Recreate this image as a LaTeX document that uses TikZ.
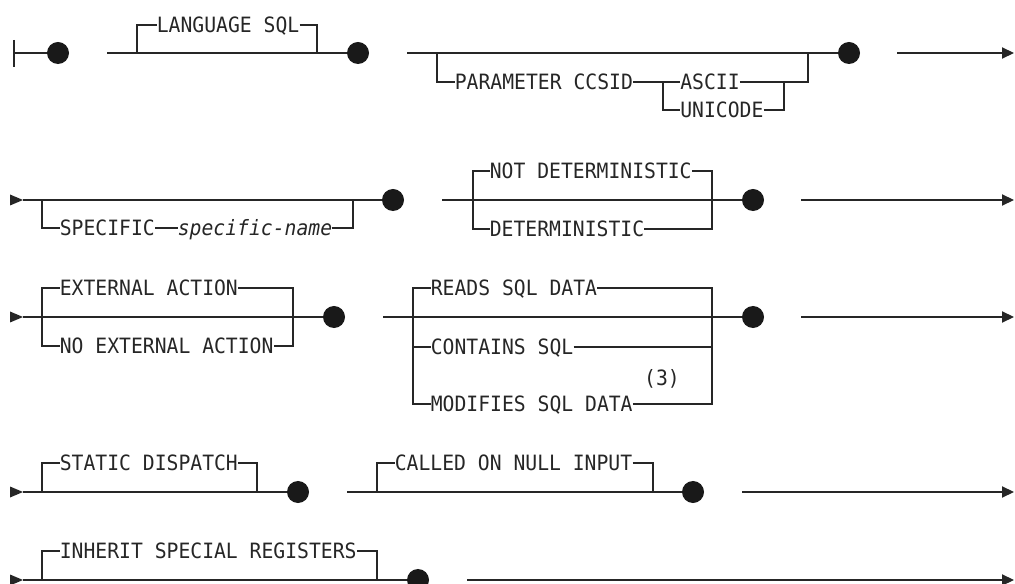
\documentclass[tikz,border=0pt]{standalone}
\usepackage{fontspec}
\newfontfamily\railfont{DejaVu Sans Mono}[FakeStretch=0.935]
\usepackage{tikz}
\usetikzlibrary{arrows.meta}

\tikzset{
  rail/.style={line width=0.85pt, draw=black!85},
  kw/.style={font=\railfont\fontsize{15}{17}\selectfont, text=black!85, inner sep=0pt,
    anchor=west, text height=10.9pt, text depth=0pt},
  dotnode/.style={circle, fill=black!90, inner sep=0pt, minimum size=0.55cm},
  outarrow/.style={rail, -{Triangle[length=0.3cm, width=0.28cm]}}
}

\begin{document}
\begin{tikzpicture}[x=0.025cm, y=-0.025cm]
  \useasboundingbox (0,0) rectangle (1015,584);
  \clip (0,0) rectangle (1015,584);

  \foreach \y in {200, 317, 492, 580} {
    \fill[black!85] (10,\y-5.5) -- (23,\y) -- (10,\y+5.5) -- cycle;
  }

  % line 1
  \coordinate (s1) at (14,53);
  \node[dotnode] (d1) at (58,53) {};
  \draw[rail] (14,40) -- (14,67);
  \draw[rail] (s1) -- (d1);

  \coordinate (a1) at (107,53);
  \coordinate (l1) at (137,53);
  \coordinate (l2) at (317,53);
  \node[dotnode] (d2) at (358,53) {};
  \node[kw] (lang) at (156.5,25) {LANGUAGE SQL};
  \draw[rail] (a1) -- (d2);
  \draw[rail] (l1) |- (lang.west);
  \draw[rail] (lang.east) -| (l2);

  \coordinate (b1) at (407,53);
  \coordinate (p1) at (437,53);
  \coordinate (p2) at (808,53);
  \coordinate (f1) at (663,82);
  \coordinate (f2) at (784,82);
  \node[dotnode] (d3) at (849,53) {};
  \node[kw] (param) at (454.5,82) {PARAMETER CCSID};
  \node[kw] (ascii) at (680,82) {ASCII};
  \node[kw] (unic) at (680,110) {UNICODE};
  \draw[rail] (b1) -- (d3);
  \draw[rail] (p1) |- (param.west);
  \draw[rail] (param.east) -- (ascii.west);
  \draw[rail] (ascii.east) -| (p2);
  \draw[rail] (f1) |- (unic.west);
  \draw[rail] (unic.east) -| (f2);

  \coordinate (c1) at (897,53);
  \coordinate (e1) at (1014,53);
  \draw[outarrow] (c1) -- (e1);

  % line 2
  \coordinate (s2) at (23,200);
  \coordinate (g1) at (42,200);
  \coordinate (g2) at (353,200);
  \node[dotnode] (d4) at (393,200) {};
  \node[kw] (spec) at (59.5,228) {SPECIFIC};
  \node[kw] (sname) at (177.5,228) {\itshape specific-name};
  \draw[rail] (s2) -- (d4);
  \draw[rail] (g1) |- (spec.west);
  \draw[rail] (spec.east) -- (sname.west);
  \draw[rail] (sname.east) -| (g2);

  \coordinate (s3) at (442,200);
  \coordinate (h1) at (473,200);
  \coordinate (h2) at (712,200);
  \node[dotnode] (d5) at (753,200) {};
  \node[kw] (notdet) at (489.5,171) {NOT DETERMINISTIC};
  \node[kw] (det) at (489.5,229) {DETERMINISTIC};
  \draw[rail] (s3) -- (d5);
  \draw[rail] (h1) |- (notdet.west);
  \draw[rail] (notdet.east) -| (h2);
  \draw[rail] (h1) |- (det.west);
  \draw[rail] (det.east) -| (h2);

  \coordinate (c2) at (801,200);
  \coordinate (e2) at (1014,200);
  \draw[outarrow] (c2) -- (e2);

  % line 3
  \coordinate (s4) at (23,317);
  \coordinate (k1) at (42,317);
  \coordinate (k2) at (293,317);
  \node[dotnode] (d6) at (334,317) {};
  \node[kw] (extact) at (59.5,288) {EXTERNAL ACTION};
  \node[kw] (noext) at (59.5,346) {NO EXTERNAL ACTION};
  \draw[rail] (s4) -- (d6);
  \draw[rail] (k1) |- (extact.west);
  \draw[rail] (extact.east) -| (k2);
  \draw[rail] (k1) |- (noext.west);
  \draw[rail] (noext.east) -| (k2);

  \coordinate (s5) at (383,317);
  \coordinate (m1) at (413,317);
  \coordinate (m2) at (712,317);
  \node[dotnode] (d7) at (753,317) {};
  \node[kw] (reads) at (430.5,288) {READS SQL DATA};
  \node[kw] (contains) at (430.5,347) {CONTAINS SQL};
  \node[kw] (modifies) at (430.5,404) {MODIFIES SQL DATA};
  \node[kw, anchor=center] (note) at (662,378) {(3)};
  \draw[rail] (s5) -- (d7);
  \draw[rail] (m1) |- (reads.west);
  \draw[rail] (reads.east) -| (m2);
  \draw[rail] (m1) |- (contains.west);
  \draw[rail] (contains.east) -| (m2);
  \draw[rail] (m1) |- (modifies.west);
  \draw[rail] (modifies.east) -| (m2);

  \coordinate (c3) at (801,317);
  \coordinate (e3) at (1014,317);
  \draw[outarrow] (c3) -- (e3);

  % line 4
  \coordinate (s6) at (23,492);
  \coordinate (n1) at (42,492);
  \coordinate (n2) at (257,492);
  \node[dotnode] (d8) at (298,492) {};
  \node[kw] (static) at (59.5,463) {STATIC DISPATCH};
  \draw[rail] (s6) -- (d8);
  \draw[rail] (n1) |- (static.west);
  \draw[rail] (static.east) -| (n2);

  \coordinate (s7) at (347,492);
  \coordinate (q1) at (377,492);
  \coordinate (q2) at (653,492);
  \node[dotnode] (d9) at (693,492) {};
  \node[kw] (called) at (394.5,463) {CALLED ON NULL INPUT};
  \draw[rail] (s7) -- (d9);
  \draw[rail] (q1) |- (called.west);
  \draw[rail] (called.east) -| (q2);

  \coordinate (c4) at (742,492);
  \coordinate (e4) at (1014,492);
  \draw[outarrow] (c4) -- (e4);

  % line 5
  \coordinate (s8) at (23,580);
  \coordinate (r1) at (42,580);
  \coordinate (r2) at (377,580);
  \node[dotnode] (d10) at (418,580) {};
  \node[kw] (inherit) at (59.5,551) {INHERIT SPECIAL REGISTERS};
  \draw[rail] (s8) -- (d10);
  \draw[rail] (r1) |- (inherit.west);
  \draw[rail] (inherit.east) -| (r2);

  \coordinate (c5) at (467,580);
  \coordinate (e5) at (1014,580);
  \draw[outarrow] (c5) -- (e5);
\end{tikzpicture}
\end{document}
